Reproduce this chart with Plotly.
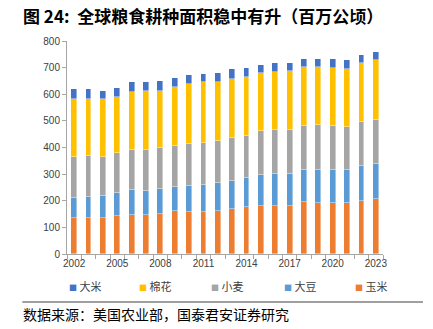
import plotly.graph_objects as go

# Harvested area, million hectares
years = list(range(2002, 2024))
maize = [136, 137, 137, 142, 145, 146, 149, 160, 157, 156, 162, 170, 177, 181, 179, 181, 194, 191, 191, 192, 199, 206]
soybean = [76, 78, 80, 88, 94, 92, 94, 90, 97, 104, 104, 104, 110, 114, 120, 121, 120, 126, 126, 125, 130, 131]
wheat_gray = [151, 154, 146, 149, 151, 154, 156, 156, 159, 156, 159, 160, 158, 166, 166, 163, 168, 166, 163, 161, 165, 168]
cotton_yellow = [221, 215, 218, 211, 220, 220, 215, 220, 227, 230, 220, 224, 219, 217, 219, 222, 221, 218, 217, 216, 223, 224]
rice_top = [34, 35, 30, 33, 35, 34, 35, 34, 31, 30, 34, 36, 35, 32, 33, 29, 29, 32, 34, 36, 31, 31]

tick_years = [2002, 2005, 2008, 2011, 2014, 2017, 2020, 2023]
y_ticks = list(range(0, 900, 100))

# stacked from bottom to top
series = [
    ("玉米", maize, "#ED7D31"),
    ("大豆", soybean, "#5B9BD5"),
    ("小麦", wheat_gray, "#A5A5A5"),
    ("棉花", cotton_yellow, "#FFC000"),
    ("大米", rice_top, "#4472C4"),
]

fig = go.Figure()
for name, vals, color in series:
    fig.add_trace(go.Bar(
        x=years, y=vals, name=name, width=0.4,
        marker=dict(color=color, line=dict(color="rgba(255,255,255,0.7)", width=0.6)),
        showlegend=False,
    ))

W, H = 433, 329
L, R, T, B = 66.7, 383, 41, 254
pw, ph = R - L, B - T

def px(x):
    return (x - L) / pw

def py(y):
    return (B - y) / ph

annotations = [
    dict(text="<b>图 24:  全球粮食耕种面积稳中有升（百万公顷）</b>",
         xref="paper", yref="paper", x=px(21), y=py(15),
         xanchor="left", yanchor="middle", showarrow=False,
         font=dict(family="Noto Sans CJK SC", size=17, color="#000000")),
    dict(text="数据来源：美国农业部，国泰君安证券研究",
         xref="paper", yref="paper", x=px(21), y=py(314),
         xanchor="left", yanchor="middle", showarrow=False,
         font=dict(family="Noto Sans CJK SC", size=14, color="#000000")),
]

# legend row: key square + label, listed from top of the stack down
legend_x = [67, 137, 209, 282, 353]
for (name, _, color), lx in zip(reversed(series), legend_x):
    annotations.append(dict(
        text=f"<span style='color:{color};font-size:8px'>■</span> {name}",
        xref="paper", yref="paper", x=px(lx), y=py(286),
        xanchor="left", yanchor="middle", showarrow=False,
        font=dict(family="Noto Sans CJK SC", size=11, color="#404040"),
    ))

fig.update_layout(
    width=W, height=H,
    margin=dict(l=L, r=W - R, t=T, b=H - B, autoexpand=False),
    barmode="stack",
    bargap=0,
    showlegend=False,
    plot_bgcolor="white", paper_bgcolor="white",
    font=dict(family="Liberation Sans, Arial, sans-serif", size=10, color="#404040"),
    xaxis=dict(
        range=[2001.5, 2023.5], tickmode="array", tickvals=tick_years,
        ticktext=[str(y) for y in tick_years], ticks="",
        showline=True, linecolor="#A6A6A6", linewidth=1,
        showgrid=False, zeroline=False,
        tickfont=dict(size=10, color="#404040"),
        minor=dict(tick0=2001.5, dtick=1, ticks="outside", ticklen=4,
                   tickcolor="#A6A6A6", showgrid=False),
    ),
    yaxis=dict(
        range=[0, 800], tickvals=y_ticks, ticks="outside", ticklen=4,
        tickcolor="#A6A6A6", showline=True, linecolor="#A6A6A6", linewidth=1,
        showgrid=False, zeroline=False,
        tickfont=dict(size=10, color="#404040"),
    ),
    annotations=annotations,
    shapes=[
        dict(type="line", xref="paper", yref="paper",
             x0=px(22), x1=px(423), y0=py(302), y1=py(302),
             line=dict(color="#808080", width=1.5)),
    ],
)

fig.write_html("out.html")
